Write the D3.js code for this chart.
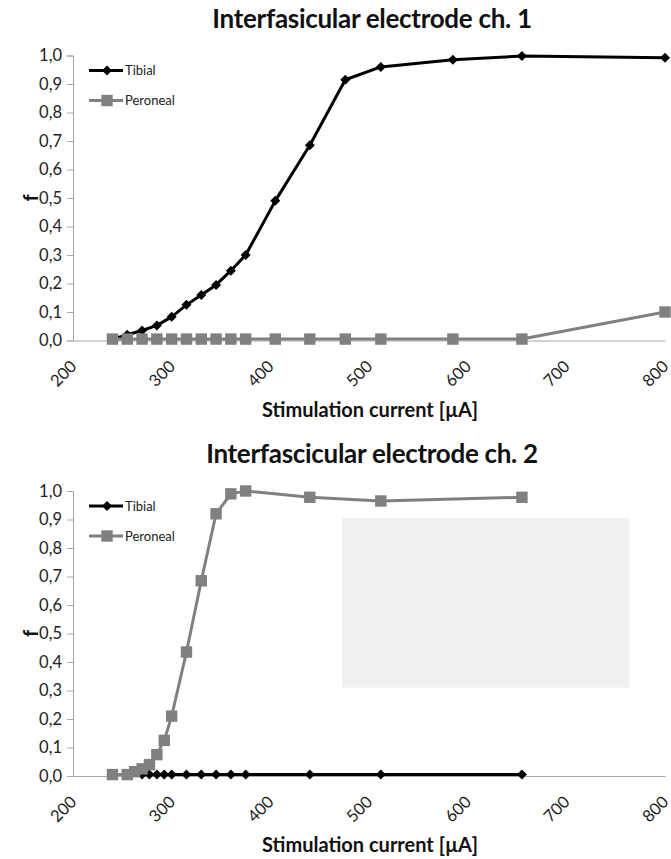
<!DOCTYPE html>
<html lang="en">
<head>
<meta charset="UTF-8">
<script src="https://cdn.jsdelivr.net/npm/d3@7"></script>
<title>Interfascicular electrode recruitment</title>
<style>
    body { margin: 0; background: #fff; }
    svg { display: block; font-family: Lato, 'Open Sans', sans-serif; }
    .title { font-size: 26px; font-weight: bold; fill: #111; }
    .axis-title { font-size: 20px; font-weight: bold; fill: #111; }
    .tick text { font-size: 16.5px; fill: #222; font-family: Lato, 'Open Sans', sans-serif; }
    .legend text { font-size: 13px; fill: #222; }
</style>
</head>
<body>
<svg id="chart" width="671" height="859"></svg>
<script>
    // tick values
    const xTicks = [200, 300, 400, 500, 600, 700, 800];
    const yTicks = [0, 0.1, 0.2, 0.3, 0.4, 0.5, 0.6, 0.7, 0.8, 0.9, 1.0];

    // ch. 1
    const ch1Current = [240, 255, 270, 285, 300, 315, 330, 345, 360, 375, 405, 440, 476, 512, 585, 655, 800];
    const ch1Tibial = [0.005, 0.02, 0.035, 0.053, 0.083, 0.125, 0.16, 0.195, 0.245, 0.30, 0.49, 0.685, 0.915, 0.96, 0.985, 0.998, 0.992];
    const ch1Peroneal = [0.005, 0.005, 0.005, 0.005, 0.005, 0.005, 0.005, 0.005, 0.005, 0.005, 0.005, 0.005, 0.005, 0.005, 0.005, 0.005, 0.10];

    // ch. 2
    const ch2TibialCurrent = [270, 277.5, 285, 292.5, 300, 315, 330, 345, 360, 375, 440, 512, 655];
    const ch2Tibial = [0.005, 0.005, 0.005, 0.005, 0.005, 0.005, 0.005, 0.005, 0.005, 0.005, 0.005, 0.005, 0.005];
    const ch2PeronealCurrent = [240, 255, 262.5, 270, 277.5, 285, 292.5, 300, 315, 330, 345, 360, 375, 440, 512, 655];
    const ch2Peroneal = [0.005, 0.005, 0.015, 0.025, 0.04, 0.075, 0.125, 0.21, 0.435, 0.685, 0.92, 0.99, 1.0, 0.978, 0.965, 0.978];

    const seriesNames = ["Tibial", "Peroneal"];

    const svg = d3.select("#chart");
    const zip = (xs, ys) => xs.map((x, i) => ({x: x, y: ys[i]}));
    const commaFmt = d => d3.format(".1f")(d).replace(".", ",");

    const panels = [
        {
            title: "Interfasicular electrode ch. 1",
            top: 55.5, bottom: 340.5,
            tibial: zip(ch1Current, ch1Tibial),
            peroneal: zip(ch1Current, ch1Peroneal)
        },
        {
            title: "Interfascicular electrode ch. 2",
            top: 491, bottom: 776,
            tibial: zip(ch2TibialCurrent, ch2Tibial),
            peroneal: zip(ch2PeronealCurrent, ch2Peroneal),
            blank: true
        }
    ];

    const x = d3.scaleLinear().domain([200, 800]).range([73, 665]);
    const diamond = d3.symbol().type(d3.symbolSquare).size(50);
    const square = d3.symbol().type(d3.symbolSquare).size(130);

    const styles = {
        Tibial: {color: "#000", marker: diamond, rotate: 45},
        Peroneal: {color: "#808080", marker: square, rotate: 0}
    };

    panels.forEach(p => {
        const y = d3.scaleLinear().domain([0, 1]).range([p.bottom, p.top]);
        const g = svg.append("g");

        g.append("text")
            .attr("class", "title")
            .attr("x", 372)
            .attr("y", p.top - 28)
            .attr("text-anchor", "middle")
            .attr("letter-spacing", "-0.3")
            .text(p.title);

        // light grey patch seen in the second panel
        if (p.blank) {
            g.append("rect")
                .attr("x", x(473))
                .attr("y", y(0.905))
                .attr("width", x(764) - x(473))
                .attr("height", y(0.31) - y(0.905))
                .attr("fill", "#f0f0f0");
        }

        const yAxis = g.append("g")
            .attr("transform", `translate(${x(200)},0)`)
            .call(d3.axisLeft(y).tickValues(yTicks).tickFormat(commaFmt).tickSize(6).tickPadding(5));
        yAxis.selectAll("line, path").attr("stroke", "#a6a6a6");

        const xAxis = g.append("g")
            .attr("transform", `translate(0,${p.bottom})`)
            .call(d3.axisBottom(x).tickValues(xTicks).tickSize(0).tickFormat(d3.format("d")));
        xAxis.select(".domain").attr("stroke", "#a6a6a6");
        xAxis.selectAll(".tick text")
            .attr("text-anchor", "end")
            .attr("dy", null)
            .attr("y", null)
            .attr("transform", "translate(4,27) rotate(-45)");

        g.append("text")
            .attr("class", "axis-title")
            .attr("x", 370)
            .attr("y", p.bottom + 76)
            .attr("text-anchor", "middle")
            .text("Stimulation current [µA]");

        g.append("text")
            .attr("class", "axis-title")
            .attr("font-size", "18px")
            .attr("transform", `translate(38,${y(0.5)}) rotate(-90)`)
            .attr("text-anchor", "middle")
            .text("f");

        const line = d3.line().x(d => x(d.x)).y(d => y(d.y));

        seriesNames.forEach(name => {
            const s = styles[name];
            const data = name === "Tibial" ? p.tibial : p.peroneal;
            g.append("path")
                .datum(data)
                .attr("fill", "none")
                .attr("stroke", s.color)
                .attr("stroke-width", 3)
                .attr("stroke-linejoin", "round")
                .attr("d", line);
            g.selectAll(null)
                .data(data)
                .enter()
                .append("path")
                .attr("d", s.marker)
                .attr("fill", s.color)
                .attr("transform", d => `translate(${x(d.x)},${y(d.y)}) rotate(${s.rotate})`);
        });

        // legend
        const legend = g.append("g").attr("class", "legend");
        seriesNames.forEach((name, i) => {
            const s = styles[name];
            const ly = p.top + 15 + i * 30;
            legend.append("line")
                .attr("x1", 89).attr("x2", 123)
                .attr("y1", ly).attr("y2", ly)
                .attr("stroke", s.color)
                .attr("stroke-width", 3);
            legend.append("path")
                .attr("d", s.marker)
                .attr("fill", s.color)
                .attr("transform", `translate(107,${ly}) rotate(${s.rotate})`);
            legend.append("text")
                .attr("x", 125)
                .attr("y", ly)
                .attr("dy", "0.35em")
                .text(name);
        });
    });
</script>
</body>
</html>
